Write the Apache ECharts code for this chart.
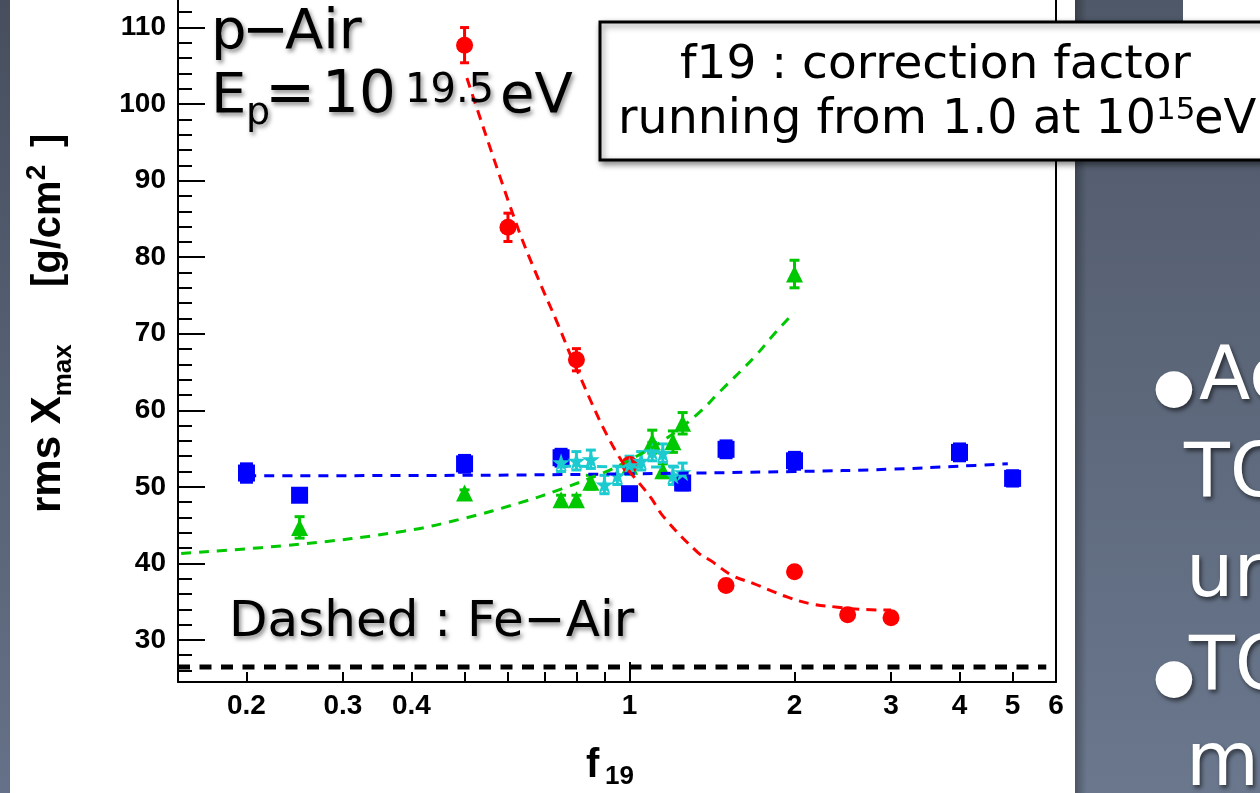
<!DOCTYPE html>
<html><head><meta charset="utf-8">
<script src="https://cdn.jsdelivr.net/npm/echarts@6/dist/echarts.min.js"></script>
<style>html,body{margin:0;padding:0;background:#fff;overflow:hidden}#c{width:1260px;height:793px}</style>
</head><body><div id="c"></div>
<script>
// ---------------- data ----------------
const blueX   = [0.2, 0.25, 0.5, 0.75, 1.0, 1.25, 1.5, 2, 4, 5];
const blueY   = [51.8, 48.9, 53.0, 53.8, 49.1, 50.5, 54.9, 53.4, 54.5, 51.1];
const blueErr = [1.2, 0.5, 1.1, 1.1, 0.5, 0.9, 1.1, 1.1, 1.1, 1.0];

const redX   = [0.5, 0.6, 0.8, 1.0, 1.5, 2, 2.5, 3];
const redY   = [107.7, 83.9, 66.6, 52.9, 37.1, 38.9, 33.3, 32.9];
const redErr = [2.3, 1.85, 1.45, 0.6, 0.4, 0.4, 0.3, 0.3];

const greenX   = [0.25, 0.5, 0.75, 0.8, 0.85, 1.0, 1.1, 1.15, 1.2, 1.25, 2];
const greenY   = [44.7, 49.2, 48.3, 48.3, 50.6, 52.7, 55.9, 52.1, 55.9, 58.3, 77.8];
const greenErr = [1.4, 0.4, 0.6, 0.6, 0.9, 0.8, 1.5, 0.9, 1.4, 1.4, 1.8];

const cyanX   = [0.75, 0.8, 0.85, 0.9, 0.95, 1.0, 1.05, 1.1, 1.15, 1.2, 1.25];
const cyanY   = [53.2, 53.4, 53.6, 50.3, 51.5, 52.8, 53.4, 54.6, 54.4, 51.5, 51.9];
const cyanErr = [1.2, 1.2, 1.2, 1.2, 1.2, 1.2, 1.2, 1.2, 1.2, 1.2, 1.2];

// dashed fit curves
const redFitX   = [0.505, 0.619, 0.678, 0.738, 0.803, 0.95, 1.092, 1.155, 1.33, 1.406, 1.541, 1.685, 1.81, 1.943, 2.142, 2.398, 2.7, 3.0];
const redFitY   = [103.4, 84.7, 77.55, 71.46, 65.16, 54.3, 48.64, 46.04, 41.47, 40.36, 38.4, 37.36, 36.45, 35.58, 34.71, 34.28, 33.96, 33.9];
const greenFitX = [0.152, 0.25, 0.387, 0.5, 0.63, 0.75, 0.9, 1.0, 1.15, 1.33, 1.467, 1.687, 1.836, 1.956, 2.0];
const greenFitY = [41.3, 42.5, 44.2, 45.9, 47.9, 49.7, 51.9, 53.5, 56.0, 59.5, 62.55, 66.9, 69.95, 72.1, 72.8];
const blueFitX  = [0.2, 0.5, 1, 2, 3, 4, 4.9];
const blueFitY  = [51.45, 51.5, 51.7, 52.0, 52.3, 52.7, 53.0];
const cyanFitX  = [0.75, 1.0, 1.25];
const cyanFitY  = [52.7, 52.6, 52.6];
const feX = [0.15, 5.76];
const feY = [26.45, 26.45];

// axes
const xRange = [0.15, 6];
const yRange = [24.5, 113.6];
const xTickValues  = [0.2, 0.3, 0.4, 0.5, 0.6, 0.7, 0.8, 0.9, 1, 2, 3, 4, 5, 6];
const xLabelValues = [0.2, 0.3, 0.4, 1, 2, 3, 4, 5, 6];
const xLongTicks   = [1];
const yMajorTicks  = [30, 40, 50, 60, 70, 80, 90, 100, 110];
const yMinorTicks  = [26, 28, 32, 34, 36, 38, 42, 44, 46, 48, 52, 54, 56, 58, 62, 64, 66, 68, 72, 74, 76, 78, 82, 84, 86, 88, 92, 94, 96, 98, 102, 104, 106, 108, 112];

// ---------------- helpers ----------------
const zip = (a, b) => a.map((v, i) => [v, b[i]]);
const zip3 = (a, b, c) => a.map((v, i) => [v, b[i], c[i]]);
const mctx = document.createElement('canvas').getContext('2d');
function tw(t, size, weight, family) { mctx.font = `${weight} ${size}px "${family}"`; return mctx.measureText(t).width; }
function run(pieces, x0, base, family, weight, fill, extra) {
  let cx = 0; const out = [];
  pieces.forEach(p => {
    if (p.at !== undefined) cx = p.at;
    const size = p.size, w = p.weight || weight;
    out.push({
      type: 'text', x: x0 + cx, y: base + (p.dy || 0) - 0.35 * size, z: 100,
      style: Object.assign({
        text: p.t, fontSize: size, fontFamily: family, fontWeight: w, fill: fill,
        align: 'left', textAlign: 'left', verticalAlign: 'middle', textVerticalAlign: 'middle'
      }, extra || {})
    });
    cx += tw(p.t, size, w, family);
  });
  return out;
}
function errRender(color, capW, lw) {
  return function (params, api) {
    const x = api.value(0), y = api.value(1), e = api.value(2);
    const t = api.coord([x, y + e]), b = api.coord([x, y - e]);
    const st = { stroke: color, lineWidth: lw };
    return { type: 'group', children: [
      { type: 'line', shape: { x1: t[0], y1: t[1], x2: b[0], y2: b[1] }, style: st },
      { type: 'line', shape: { x1: t[0] - capW / 2, y1: t[1], x2: t[0] + capW / 2, y2: t[1] }, style: st },
      { type: 'line', shape: { x1: b[0] - capW / 2, y1: b[1], x2: b[0] + capW / 2, y2: b[1] }, style: st }
    ]};
  };
}
const RED = '#ff0000', BLUE = '#0000ff', GREEN = '#00c800', CYAN = '#1ccbd0';
const STAR = 'path://M50,2 L61.8,37.6 L99,37.6 L69,59.6 L80.4,95 L50,73.2 L19.6,95 L31,59.6 L1,37.6 L38.2,37.6 Z';
const shadow = { textShadowColor: 'rgba(0,0,0,0.45)', textShadowBlur: 4, textShadowOffsetX: 2, textShadowOffsetY: 3 };
const wshadow = { textShadowColor: 'rgba(0,0,0,0.55)', textShadowBlur: 4, textShadowOffsetX: 2, textShadowOffsetY: 3 };
const TF = 'DejaVu Sans', AF = 'Liberation Sans';

function errSeries(x, y, e, color, capW, lw) {
  return { type: 'custom', silent: true, z: 2, data: zip3(x, y, e), encode: { x: 0, y: 1 }, renderItem: errRender(color, capW, lw) };
}
function scat(x, y, symbol, size, color, z) {
  return { type: 'scatter', silent: true, z: z || 3, symbol: symbol, symbolSize: size, data: zip(x, y), itemStyle: { color: color, opacity: 1 } };
}
function fit(x, y, color, width, dash, smooth) {
  return { type: 'line', silent: true, z: 4, data: zip(x, y), symbol: 'none', smooth: smooth,
           lineStyle: { color: color, width: width, type: dash } };
}

// ---------------- graphics ----------------
const graphics = [
  { type: 'rect', z: -10, shape: { x: 0, y: 0, width: 10, height: 793 },
    style: { fill: new echarts.graphic.LinearGradient(0, 0, 0, 1, [{ offset: 0, color: '#474f5e' }, { offset: 1, color: '#657188' }]) } },
  { type: 'rect', z: -10, shape: { x: 1075, y: 0, width: 185, height: 793 },
    style: { fill: new echarts.graphic.LinearGradient(0, 0, 0, 1, [{ offset: 0, color: '#4f5868' }, { offset: 1, color: '#6a778d' }]) } },
  { type: 'rect', z: -9, shape: { x: 1075, y: 0, width: 12, height: 793 },
    style: { fill: new echarts.graphic.LinearGradient(0, 0, 1, 0, [{ offset: 0, color: 'rgba(0,0,0,0.28)' }, { offset: 1, color: 'rgba(0,0,0,0)' }]) } },
  { type: 'rect', z: -9, shape: { x: 1183, y: 0, width: 77, height: 22 }, style: { fill: '#ffffff' } },
  { type: 'rect', z: 90, shape: { x: 600, y: 22, width: 720, height: 138 },
    style: { fill: '#ffffff', stroke: '#000', lineWidth: 3, shadowBlur: 6, shadowColor: 'rgba(0,0,0,0.45)', shadowOffsetX: 2, shadowOffsetY: 3 } }
];
graphics.push(...run([{ t: 'f19 : correction factor', size: 47 }], 680, 82, TF, 'normal', '#000'));
graphics.push(...run([
  { t: 'running from 1.0 at 10', size: 47.5 },
  { t: '15', size: 31, dy: -15, at: 538 },
  { t: 'eV', size: 48, at: 576 }
], 618, 137, TF, 'normal', '#000'));
graphics.push(...run([{ t: 'p', size: 56 }, { t: '\u2212', size: 56, at: 31 }, { t: 'Air', size: 56, at: 74 }], 211, 53, TF, 'normal', '#000', shadow));
graphics.push(...run([
  { t: 'E', size: 56 }, { t: 'p', size: 38, dy: 10, at: 35 }, { t: '=', size: 60, at: 54 },
  { t: '10', size: 58, at: 111 }, { t: '19.5', size: 40, dy: -11, at: 194 }, { t: 'eV', size: 56, at: 289 }
], 211, 117, TF, 'normal', '#000', shadow));
graphics.push(...run([{ t: 'Dashed : Fe', size: 50 }, { t: '\u2212', size: 50 }, { t: 'Air', size: 50 }], 229, 641, TF, 'normal', '#000', shadow));
// x title
graphics.push(...run([{ t: 'f', size: 40 }, { t: '19', size: 26, dy: 6, at: 19 }], 586, 780, AF, 'bold', '#000'));
// y title (rotated)
graphics.push({ type: 'group', x: 63, y: 513, rotation: Math.PI / 2, z: 100,
  children: run([
    { t: 'rms X', size: 42 }, { t: 'max', size: 26, dy: 10 },
    { t: '[g/cm', size: 40, at: 226 }, { t: '2', size: 28, dy: -16 }, { t: ']', size: 40, at: 366 }
  ], 0, 0, AF, 'bold', '#000') });
// slide text (cut at the window edge)
graphics.push(...run([{ t: '\u25CF', size: 48 }, { t: 'Ac', size: 75, at: 46 }], 1153, 406, TF, 'normal', '#ffffff', wshadow));
graphics.push(...run([{ t: 'TO', size: 75 }], 1184, 503, TF, 'normal', '#ffffff', wshadow));
graphics.push(...run([{ t: 'ur', size: 75 }], 1186, 603, TF, 'normal', '#ffffff', wshadow));
graphics.push(...run([{ t: '\u25CF', size: 48 }, { t: 'TO', size: 75, at: 36 }], 1153, 696, TF, 'normal', '#ffffff', wshadow));
graphics.push(...run([{ t: 'ma', size: 75 }], 1186, 792, TF, 'normal', '#ffffff', wshadow));

// ---------------- chart ----------------
const chart = echarts.init(document.getElementById('c'));
const lblFont = { fontFamily: AF, fontWeight: 'bold', fontSize: 28, color: '#000' };
const fmtX = v => String(+(+v).toPrecision(3));
chart.setOption({
  animation: false,
  backgroundColor: 'transparent',
  grid: { left: 178, right: 204, top: 0, bottom: 111, show: false },
  xAxis: [
    { type: 'log', logBase: 10, min: xRange[0], max: xRange[1], position: 'bottom',
      axisLine: { show: true, onZero: false, lineStyle: { color: '#000', width: 2 } },
      axisTick: { show: true, inside: true, length: 10, customValues: xTickValues, lineStyle: { color: '#000', width: 2 } },
      axisLabel: Object.assign({ show: true, margin: 10, customValues: xLabelValues, formatter: fmtX }, lblFont),
      splitLine: { show: false }, minorTick: { show: false } },
    { type: 'log', logBase: 10, min: xRange[0], max: xRange[1], position: 'bottom',
      axisLine: { show: false, onZero: false },
      axisTick: { show: true, inside: true, length: 20, customValues: xLongTicks, lineStyle: { color: '#000', width: 2 } },
      axisLabel: { show: false }, splitLine: { show: false } }
  ],
  yAxis: [
    { type: 'value', min: yRange[0], max: yRange[1], position: 'left',
      axisLine: { show: true, onZero: false, lineStyle: { color: '#000', width: 2 } },
      axisTick: { show: true, inside: true, length: 27, customValues: yMajorTicks, lineStyle: { color: '#000', width: 2 } },
      axisLabel: Object.assign({ show: true, margin: 12, customValues: yMajorTicks }, lblFont),
      splitLine: { show: false } },
    { type: 'value', min: yRange[0], max: yRange[1], position: 'left',
      axisLine: { show: false, onZero: false },
      axisTick: { show: true, inside: true, length: 14, customValues: yMinorTicks, lineStyle: { color: '#000', width: 2 } },
      axisLabel: { show: false }, splitLine: { show: false } },
    { type: 'value', min: yRange[0], max: yRange[1], position: 'right',
      axisLine: { show: true, onZero: false, lineStyle: { color: '#000', width: 2 } },
      axisTick: { show: false }, axisLabel: { show: false }, splitLine: { show: false } }
  ],
  graphic: graphics,
  series: [
    errSeries(blueX, blueY, blueErr, BLUE, 13, 3),
    scat(blueX, blueY, 'rect', 17, BLUE),
    errSeries(greenX, greenY, greenErr, GREEN, 10, 3),
    scat(greenX, greenY, 'triangle', 17, GREEN),
    errSeries(redX, redY, redErr, RED, 9, 3),
    scat(redX, redY, 'circle', 17, RED),
    errSeries(cyanX, cyanY, cyanErr, CYAN, 10, 3),
    scat(cyanX, cyanY, STAR, 18, CYAN, 3),
    fit(blueFitX, blueFitY, BLUE, 3, [10, 8], 0.4),
    fit(greenFitX, greenFitY, GREEN, 3, [10, 8], 0.4),
    fit(redFitX, redFitY, RED, 3, [10, 7], 0.4),
    fit(cyanFitX, cyanFitY, CYAN, 3, [10, 8], false),
    fit(feX, feY, '#000', 5, [12, 9.5], false)
  ]
});
</script></body></html>
